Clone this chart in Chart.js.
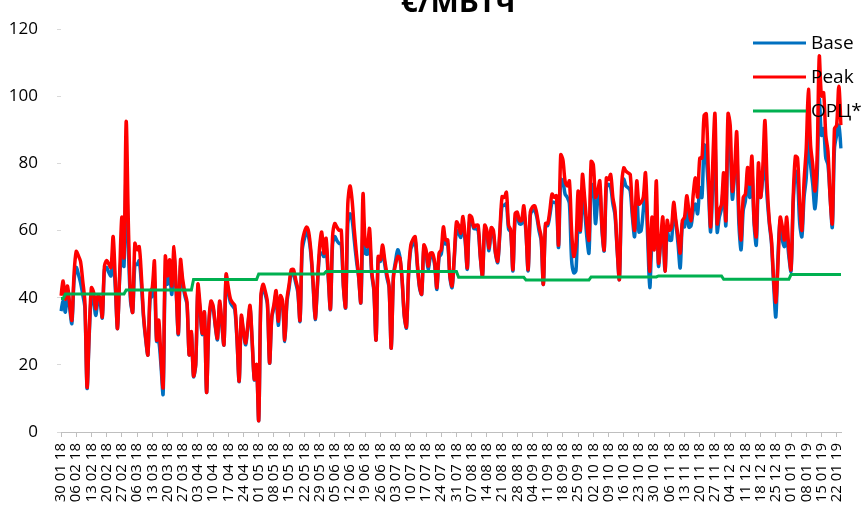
<!DOCTYPE html>
<html>
<head>
<meta charset="utf-8">
<script src="https://cdn.jsdelivr.net/npm/chart.js@4.4.1/dist/chart.umd.min.js"></script>
<style>
  html, body { margin: 0; padding: 0; background: #ffffff; }
  #wrap { width: 865px; height: 519px; position: relative; overflow: hidden; }
</style>
</head>
<body>
<div id="wrap"><canvas id="price-chart" width="865" height="519"></canvas></div>
<script>
// daily prices from 30 01 18, one value per day
const firstDay = "2018-01-30";

const weekLabels = [
  "30 01 18", "06 02 18", "13 02 18", "20 02 18", "27 02 18", "06 03 18", "13 03 18",
  "20 03 18", "27 03 18", "03 04 18", "10 04 18", "17 04 18", "24 04 18", "01 05 18",
  "08 05 18", "15 05 18", "22 05 18", "29 05 18", "05 06 18", "12 06 18", "19 06 18",
  "26 06 18", "03 07 18", "10 07 18", "17 07 18", "24 07 18", "31 07 18", "07 08 18",
  "14 08 18", "21 08 18", "28 08 18", "04 09 18", "11 09 18", "18 09 18", "25 09 18",
  "02 10 18", "09 10 18", "16 10 18", "23 10 18", "30 10 18", "06 11 18", "13 11 18",
  "20 11 18", "27 11 18", "04 12 18", "11 12 18", "18 12 18", "25 12 18", "01 01 19",
  "08 01 19", "15 01 19", "22 01 19",
];

const basePrices = [
  36, 39, 35.7, 42, 37, 32.3, 45, 49, 47, 44.5,
  41, 37, 13, 29, 40.6, 39, 34.7, 39, 38.5, 34,
  48.4, 49, 47.5, 46.5, 52, 43, 30.8, 46, 53, 49.4,
  78, 55, 39, 35.7, 50, 49.9, 51, 44, 34, 27.5,
  23, 39.6, 40.6, 45, 27, 27, 20, 11.3, 46.5, 44,
  47, 41, 52.3, 42, 29, 49.4, 44, 40.6, 38, 23,
  29.5, 16.5, 20, 42, 36, 29, 35.7, 11.8, 31, 38,
  37, 31.5, 27.5, 38, 32, 26, 46.5, 41.5, 38.5, 37.5,
  36.5, 27.5, 15, 34, 29.5, 26, 31.5, 37, 26.5, 15.5,
  20, 3.5, 39.6, 43, 41, 38, 20.5, 34, 37, 41,
  31.8, 39.5, 38, 27, 38.6, 43, 47.4, 47, 44.5, 41.6,
  33, 54, 57.5, 59.6, 58, 53, 44, 33.5, 43, 53,
  53.3, 52.3, 55.2, 46, 36.5, 56, 58.2, 57, 56.2, 56,
  43, 37, 62, 65, 63.2, 57, 51, 46, 38.5, 60,
  53.3, 53, 57, 47, 42, 27.4, 51.8, 50.8, 54, 50,
  46, 43, 25, 46.5, 51, 54.3, 52, 45, 34.5, 31,
  47, 54.5, 56, 57, 49.5, 43, 41, 54.5, 53, 48.5,
  52, 52.5, 49.5, 42.5, 52, 53, 57.5, 56, 56, 46,
  43, 51.5, 60, 59.2, 58, 61.5, 57, 48.5, 62.5, 62.5,
  60.6, 60.5, 60, 52, 46.5, 60.5, 59, 54, 59.5, 59,
  53, 50.5, 59, 67.5, 67.5, 68, 60.5, 59.5, 48, 63.5,
  64, 62, 62, 65, 59.5, 48, 64.5, 66, 66, 64,
  60, 57, 44, 61.5, 61.5, 64.5, 68.4, 68.4, 68, 55,
  75.3, 74.8, 70.9, 69.9, 68, 51.3, 47.4, 48, 62.1, 59.6,
  69.9, 66, 58.2, 53.3, 73.8, 73.3, 62.1, 68.9, 72.3, 60,
  54, 72.8, 73.8, 72.8, 68, 64.5, 54, 45.5, 69.9, 75.3,
  73.3, 72.8, 71.8, 64, 58.2, 70.9, 59.6, 60, 66, 72.8,
  58.2, 43, 56.2, 55.2, 67.9, 49.4, 56.2, 60.1, 47.9, 60,
  57.2, 57.2, 66, 62.1, 56, 48.9, 62.1, 61.1, 67.4, 61,
  61.5, 66, 67.9, 65, 72.8, 69.9, 85.5, 81.6, 72, 59.6,
  73.8, 86.5, 59.6, 64, 66.5, 73.8, 61.5, 87.4, 84.5, 69.4,
  76.7, 83.6, 62.1, 54.3, 66, 68.9, 75.3, 69.9, 77.7, 62.1,
  55.7, 73.8, 69.9, 75.7, 79.6, 69.9, 62.1, 56.2, 44, 34.3,
  52.3, 63, 57.2, 55.2, 58.2, 52.3, 47.9, 67.9, 77.7, 75.3,
  62.1, 58.2, 69.9, 75.7, 89.4, 79.6, 73.8, 66.5, 75.7, 99.2,
  88.4, 90.4, 81.6, 79.6, 70, 61, 84.5, 88.4, 91.4, 84.5,
];

const peakPrices = [
  40.6, 45, 39.6, 43.5, 38, 33.3, 47, 53.8, 52.5, 50.8,
  45, 38.7, 13.3, 30, 43, 41.6, 36.7, 40.6, 40, 34.3,
  49.4, 51.1, 50, 49, 58.2, 45, 30.8, 47, 64, 52,
  92.5, 62, 40.6, 35.7, 56.2, 54.3, 55.2, 46.5, 34.7, 28,
  23, 41.6, 43, 50.9, 27.4, 33.3, 22, 13.3, 52.3, 46.5,
  51.3, 43.5, 55.2, 43, 29.4, 51.3, 45.5, 41.6, 38.7, 23,
  29.9, 16.7, 20.1, 44, 37.7, 29.4, 35.7, 11.8, 32, 39,
  37.7, 32, 27.9, 39, 33, 26, 47, 43, 39.6, 38.5,
  37.7, 28, 15.2, 34.7, 30, 26.5, 32, 37.7, 27, 15.7,
  20.1, 3.5, 40.6, 44, 42, 38.7, 20.6, 34.3, 38, 42.1,
  33, 40.6, 39, 27.4, 39.6, 44, 48.4, 48.4, 45.5, 42.6,
  33.3, 56.2, 59.5, 61.1, 59.6, 54, 45, 33.8, 44, 55,
  59.6, 53.3, 57.7, 47, 36.7, 58.2, 62.1, 61, 60.1, 60.1,
  43.5, 37.2, 67.9, 73.3, 68.9, 60.1, 53, 46.5, 38.7, 70.9,
  56.2, 55.2, 60.6, 48, 42.6, 27.4, 52.3, 51.3, 55.7, 51.3,
  47, 43.5, 25, 46, 50, 52.3, 51.8, 45.5, 34.7, 31.3,
  47.9, 55.7, 57.4, 58.2, 50.4, 43.5, 41.1, 55.7, 54.3, 49.4,
  53.3, 53.3, 50.4, 43, 53.3, 54.3, 61.1, 57.2, 57.2, 46.5,
  43.5, 52.3, 62.6, 61.6, 59.2, 64.2, 58.2, 48.9, 64.5, 64,
  61.1, 61.6, 61.6, 52.3, 46.5, 61.6, 60.1, 54.8, 60.9, 60.1,
  53.3, 50.9, 60.1, 70.1, 69.9, 71.4, 61.6, 60.1, 48.4, 65,
  65.5, 63, 63, 67.4, 60.1, 48.4, 65.5, 67, 67.4, 65,
  61.1, 58.2, 44, 62.1, 62.1, 66, 70.9, 69.9, 70.4, 55.7,
  82.6, 81.1, 74.8, 73.3, 74.8, 60.1, 52.3, 56, 71.8, 60.1,
  76.7, 69.9, 62.1, 57.2, 80.6, 79.6, 69.9, 71.8, 74.8, 61.1,
  54.3, 75.7, 75.2, 76.7, 69.9, 66, 54.3, 45.5, 72.8, 78.7,
  77.7, 77.2, 76.7, 66, 60.1, 74.8, 67.9, 68.4, 69.9, 77.2,
  62.1, 47.9, 64, 54.3, 74.8, 50.4, 57.2, 64, 47.9, 63,
  60.1, 61.1, 68.4, 63, 58.2, 53.3, 63, 64, 70.4, 66,
  63, 70.9, 75.7, 70, 81.6, 81.6, 94.3, 94.8, 76.7, 61.1,
  80.6, 94.8, 62.1, 66, 67.9, 77.2, 63, 94.8, 91.4, 71.8,
  77.7, 89.4, 66, 57.2, 69.9, 70.9, 78.8, 73.8, 82.1, 63,
  58.2, 80.1, 69.9, 78.7, 92.8, 73.8, 63, 57.2, 45.5, 38.7,
  50.4, 64, 61.1, 57.2, 64, 54.3, 48.4, 69.9, 82.1, 81.6,
  67.9, 60.1, 74.8, 84.5, 102.1, 85.5, 79.6, 71.8, 81.6, 111.9,
  100.1, 101.1, 88.4, 83.6, 70, 62.1, 90.4, 91.4, 103, 91.4,
];

// ОРЦ is set per month
const orcMonths = ["01 18", "02 18", "03 18", "04 18", "05 18", "06 18", "07 18",
  "08 18", "09 18", "10 18", "11 18", "12 18", "01 19"];
const orcValues = [39.8, 41.1, 42.3, 45.4, 47.1, 47.8, 47.8, 46.1, 45.3, 46.2, 46.5, 45.5, 46.9];

const pad = (n) => String(n).padStart(2, "0");

const days = [];
const start = new Date(firstDay + "T00:00:00Z");
for (let i = 0; i < basePrices.length; i++) {
  const d = new Date(start.getTime() + i * 86400000);
  days.push(pad(d.getUTCDate()) + " " + pad(d.getUTCMonth() + 1) + " " + pad(d.getUTCFullYear() % 100));
}
const orcDaily = days.map((day) => orcValues[orcMonths.indexOf(day.slice(3))]);

const titlePlugin = {
  id: "cutTitle",
  afterDraw(chart) {
    const ctx = chart.ctx;
    ctx.save();
    ctx.font = "bold 30px 'Open Sans', sans-serif";
    ctx.fillStyle = "#000000";
    ctx.textAlign = "center";
    ctx.textBaseline = "alphabetic";
    ctx.fillText("€/MВтч", 458, 12);
    ctx.restore();
  },
};

// legend sits inside the plot, top right
const insideLegend = {
  id: "insideLegend",
  afterDraw(chart) {
    const ctx = chart.ctx;
    ctx.save();
    ctx.font = "19px 'Open Sans', sans-serif";
    ctx.textBaseline = "middle";
    ctx.textAlign = "left";
    chart.data.datasets.forEach((ds, i) => {
      const y = 43 + i * 34;
      ctx.strokeStyle = ds.borderColor;
      ctx.lineWidth = 3;
      ctx.beginPath();
      ctx.moveTo(753, y);
      ctx.lineTo(806, y);
      ctx.stroke();
      ctx.fillStyle = "#000000";
      ctx.fillText(ds.label, 811, y + 1);
    });
    ctx.restore();
  },
};

new Chart(document.getElementById("price-chart"), {
  type: "line",
  data: {
    labels: days,
    datasets: [
      {
        label: "Base",
        data: basePrices,
        borderColor: "#0070C0",
        borderWidth: 3.5,
        tension: 0.3,
        pointRadius: 0,
        order: 3,
      },
      {
        label: "Peak",
        data: peakPrices,
        borderColor: "#FF0000",
        borderWidth: 3.5,
        tension: 0.3,
        pointRadius: 0,
        order: 2,
      },
      {
        label: "ОРЦ*",
        data: orcDaily,
        borderColor: "#00B050",
        borderWidth: 3,
        tension: 0,
        pointRadius: 0,
        order: 1,
      },
    ],
  },
  options: {
    responsive: false,
    animation: false,
    devicePixelRatio: 1,
    layout: { padding: { top: 22, right: 12, left: 0, bottom: 0 } },
    plugins: {
      legend: { display: false },
      tooltip: { enabled: false },
    },
    scales: {
      x: {
        ticks: {
          autoSkip: false,
          minRotation: 90,
          maxRotation: 90,
          color: "#000000",
          padding: 6,
          font: { family: "'Open Sans', sans-serif", size: 15 },
          callback: function (value, index) {
            return index % 7 === 0 ? weekLabels[index / 7] : "";
          },
        },
        grid: {
          drawOnChartArea: false,
          tickLength: 5,
          color: (c) => (c.index % 7 === 0 ? "#bfbfbf" : "rgba(0,0,0,0)"),
        },
        border: { color: "#bfbfbf" },
        afterFit: function (scale) {
          scale.height = 87;
        },
      },
      y: {
        min: 0,
        max: 120,
        ticks: {
          stepSize: 20,
          color: "#000000",
          padding: 19,
          font: { family: "'Open Sans', sans-serif", size: 17 },
        },
        grid: {
          drawOnChartArea: false,
          tickLength: 4,
          color: "#d9d9d9",
        },
        border: { display: false },
        afterFit: function (scale) {
          scale.width = 61;
        },
      },
    },
  },
  plugins: [titlePlugin, insideLegend],
});
</script>
</body>
</html>
